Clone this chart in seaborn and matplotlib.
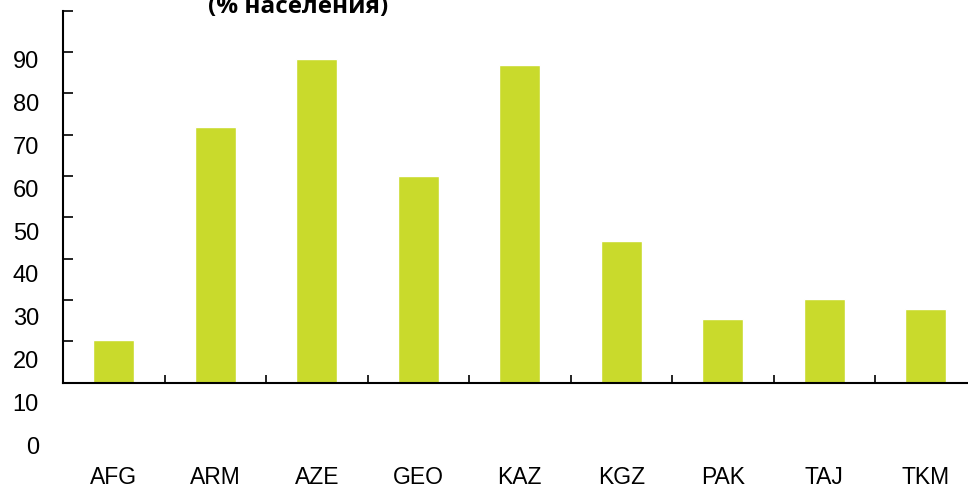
import matplotlib
matplotlib.use("Agg")
import matplotlib.pyplot as plt
import matplotlib.transforms as mtransforms
import pandas as pd
import seaborn as sns

# chart data
countries = ["AFG", "ARM", "AZE", "GEO", "KAZ", "KGZ", "PAK", "TAJ", "TKM"]
values = [10.3, 61.8, 78.3, 50.0, 76.8, 34.3, 15.4, 20.2, 17.8]
ytick_labels = ["0", "10", "20", "30", "40", "50", "60", "70", "80", "90"]
title = "(% населения)"

df = pd.DataFrame({"country": countries, "value": values})

sns.set_style("white")
plt.rcParams["font.family"] = ["Liberation Sans", "DejaVu Sans"]
plt.rcParams["text.color"] = "black"
plt.rcParams["xtick.color"] = "black"
plt.rcParams["ytick.color"] = "black"

W, H = 968, 487
fig = plt.figure(figsize=(W / 100, H / 100), dpi=100)
ax = fig.add_axes([63 / W, (H - 382.7) / H, 913.5 / W, (382.7 - 10.5) / H])

sns.barplot(data=df, x="country", y="value", color="#C9DA2C", width=0.4,
            saturation=1, ax=ax)

ax.set_xlim(-0.5, len(countries) - 0.5)
ax.set_ylim(0, 90)
ax.set_xlabel("")
ax.set_ylabel("")

sns.despine(ax=ax)
for s in ["left", "bottom"]:
    ax.spines[s].set_color("black")
    ax.spines[s].set_linewidth(1.5)

# y ticks point inward, labels drawn separately (they sit off the ticks)
ax.set_yticks(range(0, 91, 10))
ax.set_yticklabels([])
ax.tick_params(axis="y", left=True, direction="in", length=7, width=1.2,
               color="black")

# x: boundary ticks pointing up, labels far below the axis
ax.set_xticks(range(len(countries)))
ax.set_xticklabels(countries, fontsize=16.5, color="black")
ax.set_xticks([i + 0.5 for i in range(len(countries) - 1)], minor=True)
ax.tick_params(axis="x", which="major", bottom=True, length=0, pad=60)
ax.tick_params(axis="x", which="minor", bottom=True, direction="in",
               length=6, width=1.2, color="black")

# y labels, slightly displaced compared with the ticks as in the original
trans = mtransforms.blended_transform_factory(fig.transFigure, ax.transData)
for k, lab in enumerate(ytick_labels):
    ax.text(39 / W, -15.8 + k * 10.375, lab, transform=trans, ha="right",
            va="center", fontsize=17, color="black", clip_on=False)

fig.text(298 / W, (H - 13) / H, title, ha="center", va="baseline",
         fontsize=17.5, fontweight="bold", color="black",
         family=["Open Sans", "DejaVu Sans"])

fig.savefig("out.png", dpi=100)
